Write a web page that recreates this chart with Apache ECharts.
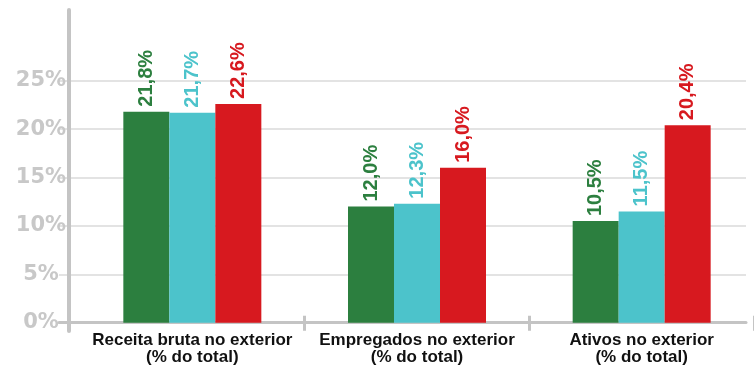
<!DOCTYPE html>
<html><head><meta charset="utf-8">
<script src="https://cdn.jsdelivr.net/npm/echarts@6/dist/echarts.min.js"></script>
<style>html,body{margin:0;padding:0;background:#fff}#c{width:754px;height:368px}</style>
</head><body><div id="c"></div>
<script>
var categories = ['Receita bruta no exterior\n(% do total)', 'Empregados no exterior\n(% do total)', 'Ativos no exterior\n(% do total)'];
var seriesA = [21.8, 12.0, 10.5];
var seriesB = [21.7, 12.3, 11.5];
var seriesC = [22.6, 16.0, 20.4];
var yTicks = [0, 5, 10, 15, 20, 25];
var colors = ['#2c7f3f', '#4cc3cb', '#d7191f'];

var chart = echarts.init(document.getElementById('c'));
var axisGray = '#c4c4c4';
function innerTick(i) { return i === 1 || i === 2; }
function mkSeries(data, i) {
  return {
    type: 'bar', xAxisIndex: 2, yAxisIndex: 2, data: data,
    barWidth: 46, barGap: '0%',
    itemStyle: { color: colors[i] },
    label: {
      show: true, position: 'top', rotate: 90, align: 'left', verticalAlign: 'middle',
      distance: 5, color: colors[i], fontFamily: 'Liberation Sans', fontWeight: 'bold', fontSize: 20,
      formatter: function (p) { return p.value.toFixed(1).replace('.', ',') + '%'; }
    }
  };
}
chart.setOption({
  animation: false,
  grid: [
    { left: 69, right: 8, top: 10, bottom: 37 },
    { left: 59, right: 8, top: 80.7, bottom: 45.3 },
    { left: 80, right: -6, top: 80.7, bottom: 45.3 }
  ],
  xAxis: [
    { gridIndex: 0, type: 'category', data: categories, show: false },
    { gridIndex: 1, type: 'category', data: categories,
      axisLine: { show: true, lineStyle: { color: axisGray, width: 3 } },
      axisTick: { show: false }, axisLabel: { show: false } },
    { gridIndex: 2, type: 'category', data: categories, position: 'bottom',
      axisLine: { show: false },
      axisTick: { show: true, interval: innerTick, length: 8, lineStyle: { color: axisGray, width: 3 } },
      axisLabel: { show: true, interval: 0, color: '#111', fontFamily: 'Liberation Sans', fontWeight: 'bold', fontSize: 17, lineHeight: 17, margin: 9 } },
    { gridIndex: 2, type: 'category', data: categories, position: 'bottom', offset: 0,
      axisLine: { show: false },
      axisTick: { show: true, interval: innerTick, inside: true, length: 7, lineStyle: { color: axisGray, width: 3 } },
      axisLabel: { show: false } }
  ],
  yAxis: [
    { gridIndex: 0, type: 'value', min: 0, max: 1,
      axisLine: { show: true, lineStyle: { color: axisGray, width: 4 } },
      axisTick: { show: false }, axisLabel: { show: false }, splitLine: { show: false } },
    { gridIndex: 1, type: 'value', min: yTicks[0], max: yTicks[yTicks.length - 1], interval: 5,
      axisLine: { show: false }, axisTick: { show: false },
      splitLine: { show: true, lineStyle: { color: '#dadada', width: 1.5 } },
      axisLabel: { show: true, color: '#c8c8c8', fontFamily: 'DejaVu Sans', fontWeight: 'bold', fontSize: 21, align: 'center', margin: 18,
        formatter: '{value}%' } },
    { gridIndex: 2, type: 'value', min: yTicks[0], max: yTicks[yTicks.length - 1], show: false }
  ],
  series: [mkSeries(seriesA, 0), mkSeries(seriesB, 1), mkSeries(seriesC, 2)]
});
</script></body></html>
